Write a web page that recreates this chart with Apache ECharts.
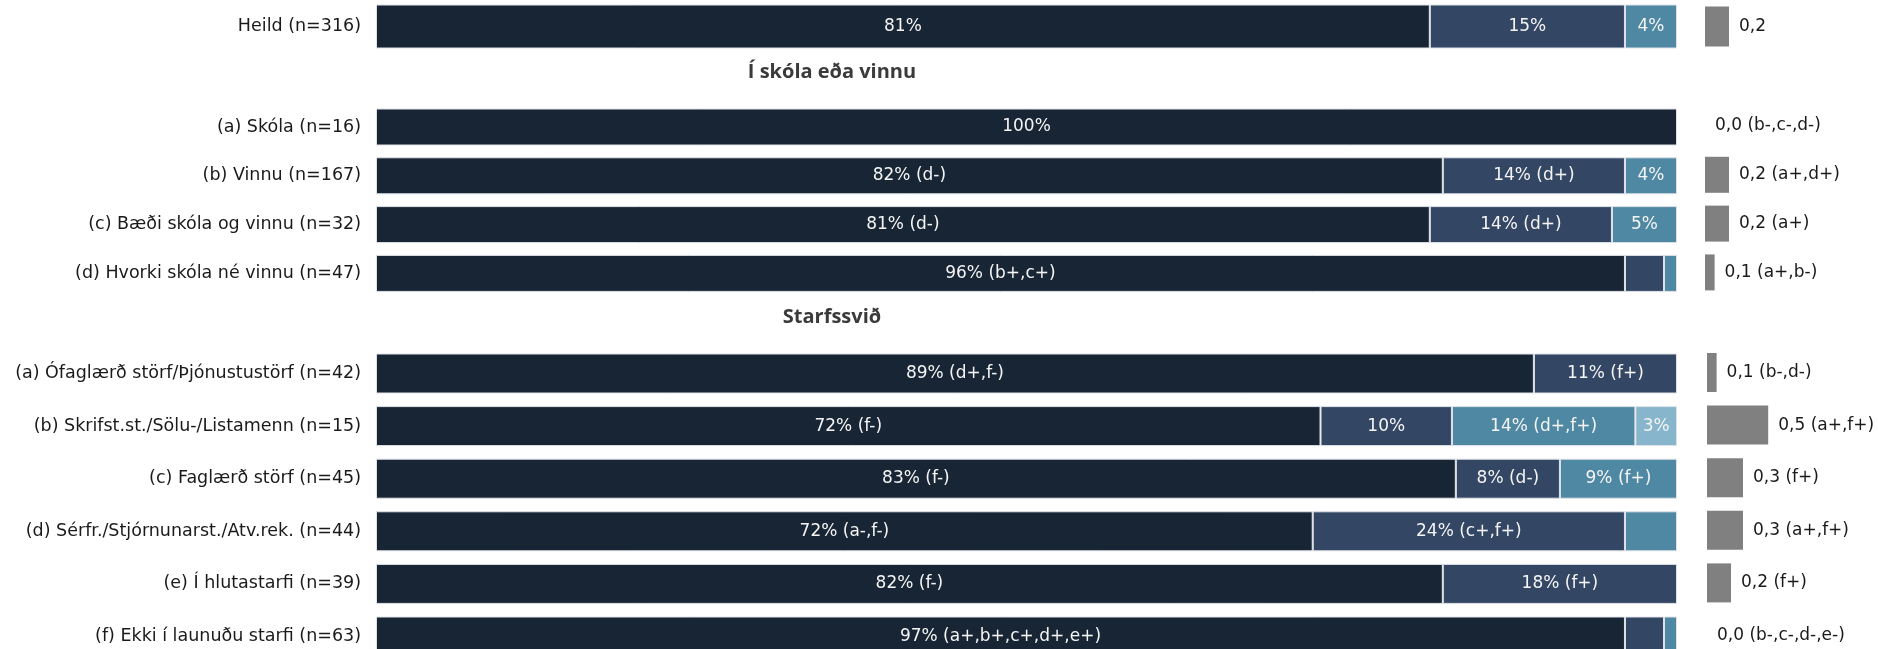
<!DOCTYPE html>
<html>
<head>
<meta charset="utf-8">
<script src="https://cdn.jsdelivr.net/npm/echarts@6/dist/echarts.min.js"></script>
<style>
  html, body { margin: 0; padding: 0; background: #ffffff; }
  #chart { width: 1878px; height: 649px; }
</style>
</head>
<body>
<div id="chart"></div>
<script>
// ---------- DATA ----------
const cats0 = ['Heild (n=316)'];
const cats1 = ['(a) Skóla (n=16)', '(b) Vinnu (n=167)', '(c) Bæði skóla og vinnu (n=32)', '(d) Hvorki skóla né vinnu (n=47)'];
const cats2 = ['(a) Ófaglærð störf/Þjónustustörf (n=42)', '(b) Skrifst.st./Sölu-/Listamenn (n=15)', '(c) Faglærð störf (n=45)', '(d) Sérfr./Stjórnunarst./Atv.rek. (n=44)', '(e) Í hlutastarfi (n=39)', '(f) Ekki í launuðu starfi (n=63)'];

const headers = ['Í skóla eða vinnu', 'Starfssvið'];

// stacked shares (%) per segment
const g0s1 = [81], g0s2 = [15], g0s3 = [4], g0s4 = [0];
const g1s1 = [100, 82, 81, 96], g1s2 = [0, 14, 14, 3], g1s3 = [0, 4, 5, 1], g1s4 = [0, 0, 0, 0];
const g2s1 = [89, 72.6, 83, 72, 82, 96], g2s2 = [11, 10.1, 8, 24, 18, 3], g2s3 = [0, 14.1, 9, 4, 0, 1], g2s4 = [0, 3.2, 0, 0, 0, 0];

// segment labels
const g0l1 = ['81%'], g0l2 = ['15%'], g0l3 = ['4%'], g0l4 = [''];
const g1l1 = ['100%', '82% (d-)', '81% (d-)', '96% (b+,c+)'];
const g1l2 = ['', '14% (d+)', '14% (d+)', ''];
const g1l3 = ['', '4%', '5%', ''];
const g1l4 = ['', '', '', ''];
const g2l1 = ['89% (d+,f-)', '72% (f-)', '83% (f-)', '72% (a-,f-)', '82% (f-)', '97% (a+,b+,c+,d+,e+)'];
const g2l2 = ['11% (f+)', '10%', '8% (d-)', '24% (c+,f+)', '18% (f+)', ''];
const g2l3 = ['', '14% (d+,f+)', '9% (f+)', '', '', ''];
const g2l4 = ['', '3%', '', '', '', ''];

// mean values and labels
const m0 = [0.2];
const m1 = [0, 0.2, 0.2, 0.08];
const m2 = [0.08, 0.51, 0.3, 0.3, 0.2, 0];
const ml0 = ['0,2'];
const ml1 = ['0,0 (b-,c-,d-)', '0,2 (a+,d+)', '0,2 (a+)', '0,1 (a+,b-)'];
const ml2 = ['0,1 (b-,d-)', '0,5 (a+,f+)', '0,3 (f+)', '0,3 (a+,f+)', '0,2 (f+)', '0,0 (b-,c-,d-,e-)'];

// ---------- STYLE ----------
const segColors = ['#182535', '#334664', '#4f88a2', '#86b5cc'];
const FONT = '"DejaVu Sans", sans-serif';

const chart = echarts.init(document.getElementById('chart'), null, { renderer: 'canvas' });

const groups = [
  { cats: cats0, segs: [g0s1, g0s2, g0s3, g0s4], labs: [g0l1, g0l2, g0l3, g0l4], mean: m0, meanLab: ml0,
    grid: { top: 2, height: 49 }, meanGrid: { left: 1705, top: 2, height: 49 }, bw: 44, mbw: 40 },
  { cats: cats1, segs: [g1s1, g1s2, g1s3, g1s4], labs: [g1l1, g1l2, g1l3, g1l4], mean: m1, meanLab: ml1,
    grid: { top: 102.6, height: 195.2 }, meanGrid: { left: 1705, top: 101.6, height: 195.2 }, bw: 37, mbw: 36 },
  { cats: cats2, segs: [g2s1, g2s2, g2s3, g2s4], labs: [g2l1, g2l2, g2l3, g2l4], mean: m2, meanLab: ml2,
    grid: { top: 347.2, height: 315.6 }, meanGrid: { left: 1707, top: 346.2, height: 315.6 }, bw: 40, mbw: 39 }
];

const grids = [], xAxes = [], yAxes = [], series = [];
groups.forEach((g, gi) => {
  const mainIdx = grids.length;
  grids.push({ left: 376, width: 1301, top: g.grid.top, height: g.grid.height,
               containLabel: false, outerBoundsMode: 'none' });
  xAxes.push({ gridIndex: mainIdx, type: 'value', min: 0, max: 100, show: false });
  yAxes.push({
    gridIndex: mainIdx, type: 'category', inverse: true, data: g.cats,
    axisLine: { show: false }, axisTick: { show: false }, splitLine: { show: false },
    axisLabel: { margin: 15, fontFamily: FONT, fontSize: 17.5, color: '#1a1a1a' }
  });
  g.segs.forEach((seg, si) => {
    const labs = g.labs[si];
    series.push({
      type: 'bar', xAxisIndex: mainIdx, yAxisIndex: mainIdx, stack: 'g' + gi,
      barWidth: g.bw,
      data: seg.map(v => (v === 0 ? null : v)),
      itemStyle: { color: segColors[si], borderColor: '#dfe3e8', borderWidth: 1 },
      label: {
        show: true, position: 'inside', fontFamily: FONT, fontSize: 17, color: '#f4f4f4',
        formatter: p => labs[p.dataIndex] || ''
      },
      emphasis: { disabled: true },
      animation: false
    });
  });
  const meanIdx = grids.length;
  grids.push({ left: g.meanGrid.left, width: 120, top: g.meanGrid.top, height: g.meanGrid.height,
               containLabel: false, outerBoundsMode: 'none' });
  xAxes.push({ gridIndex: meanIdx, type: 'value', min: 0, max: 1, show: false });
  yAxes.push({ gridIndex: meanIdx, type: 'category', inverse: true, data: g.cats, show: false });
  const mlabs = g.meanLab;
  series.push({
    type: 'bar', xAxisIndex: meanIdx, yAxisIndex: meanIdx,
    barWidth: g.mbw,
    data: g.mean,
    itemStyle: { color: '#808080' },
    label: {
      show: true, position: 'right', distance: 10, fontFamily: FONT, fontSize: 17, color: '#1a1a1a',
      formatter: p => mlabs[p.dataIndex]
    },
    emphasis: { disabled: true },
    animation: false
  });
});

chart.setOption({
  animation: false,
  backgroundColor: '#ffffff',
  grid: grids,
  xAxis: xAxes,
  yAxis: yAxes,
  series: series,
  graphic: [
    { type: 'text', x: 832, y: 72, silent: true,
      style: { text: headers[0], font: 'bold 20px "Open Sans", sans-serif', fill: '#3a3a3a',
               align: 'center', verticalAlign: 'middle', textAlign: 'center', textVerticalAlign: 'middle' } },
    { type: 'text', x: 832, y: 317, silent: true,
      style: { text: headers[1], font: 'bold 20px "Open Sans", sans-serif', fill: '#3a3a3a',
               align: 'center', verticalAlign: 'middle', textAlign: 'center', textVerticalAlign: 'middle' } }
  ]
});
</script>
</body>
</html>
